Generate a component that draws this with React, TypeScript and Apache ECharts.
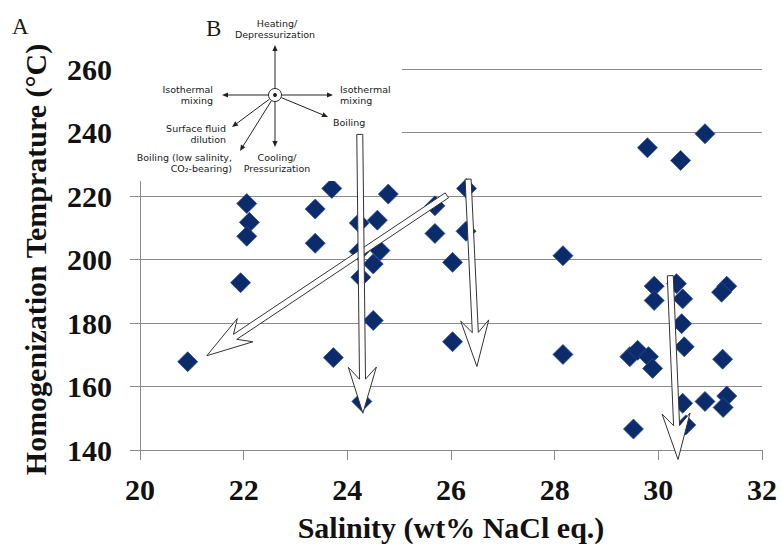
import React, { useEffect, useRef } from "react";
import * as echarts from "echarts";

const salinity = [
  20.92, 22.06, 22.11, 22.06, 21.94, 23.38, 23.38, 23.7, 23.73, 24.23, 24.23, 24.26,
  24.28, 24.58, 24.63, 24.5, 24.5, 24.79, 25.69, 25.69, 26.3, 26.29, 26.03, 26.03,
  28.16, 28.16, 29.79, 30.43, 30.9, 29.92, 29.92, 30.35, 30.47, 30.45, 30.5, 31.32,
  31.22, 31.24, 29.45, 29.6, 29.81, 29.89, 29.52, 30.47, 30.53, 30.9, 31.32, 31.25,
];
const temperature = [
  167.8, 217.6, 211.7, 207.3, 192.7, 215.9, 205.1, 222.4, 169.1, 211.5, 202.5, 194.4,
  155.3, 212.4, 202.8, 198.6, 180.8, 220.6, 216.9, 208.2, 222.4, 208.9, 199.1, 174.1,
  201.2, 170.1, 235.2, 231.2, 239.6, 191.6, 187.1, 192.4, 187.6, 179.8, 172.5, 191.6,
  189.7, 168.6, 169.4, 171.4, 169.4, 165.7, 146.6, 154.7, 147.9, 155.3, 157.0, 153.4,
];

// Trend arrows (data coordinates): tail -> tip
const arrowTails = [
  [25.92, 220.2],
  [24.24, 239.4],
  [26.33, 225.3],
  [30.23, 194.9],
];
const arrowTips = [
  [21.29, 169.7],
  [24.3, 151.6],
  [26.5, 166.3],
  [30.38, 137.0],
];

const xMin = 20, xMax = 32, xStep = 2;
const yMin = 140, yMax = 260, yStep = 20;

const SERIF = "'Liberation Serif', 'Times New Roman', serif";
const SANS = "'DejaVu Sans', Verdana, sans-serif";

function bigArrow(t: number[], h: number[]) {
  const headLen = 46, halfW = 14, notch = 12, s = 3;
  const dx = h[0] - t[0], dy = h[1] - t[1];
  const L = Math.hypot(dx, dy);
  const ux = dx / L, uy = dy / L;
  const px = -uy, py = ux;
  const bx = h[0] - ux * headLen, by = h[1] - uy * headLen;
  const jx = h[0] - ux * (headLen - notch), jy = h[1] - uy * (headLen - notch);
  return [
    [t[0] + px * s, t[1] + py * s],
    [jx + px * s, jy + py * s],
    [bx + px * halfW, by + py * halfW],
    [h[0], h[1]],
    [bx - px * halfW, by - py * halfW],
    [jx - px * s, jy - py * s],
    [t[0] - px * s, t[1] - py * s],
  ];
}

function smallArrow(cx: number, cy: number, ex: number, ey: number, r: number) {
  const dx = ex - cx, dy = ey - cy;
  const L = Math.hypot(dx, dy);
  const ux = dx / L, uy = dy / L;
  const px = -uy, py = ux;
  const hl = 6, hw = 2.6;
  const sx = cx + ux * r, sy = cy + uy * r;
  const bx = ex - ux * hl, by = ey - uy * hl;
  return [
    {
      type: "line",
      z: 101,
      shape: { x1: sx, y1: sy, x2: bx, y2: by },
      style: { stroke: "#222", lineWidth: 1 },
    },
    {
      type: "polygon",
      z: 101,
      shape: { points: [[ex, ey], [bx + px * hw, by + py * hw], [bx - px * hw, by - py * hw]] },
      style: { fill: "#222" },
    },
  ];
}

function txt(x: number, y: number, text: string, align: string, size = 9.5, font = SANS, weight = "normal") {
  return {
    type: "text",
    z: 102,
    x,
    y,
    style: {
      text,
      fill: "#1a1a1a",
      font: `${weight} ${size}px ${font}`,
      align,
      verticalAlign: "middle",
    },
  };
}

export default function App() {
  const ref = useRef<HTMLDivElement>(null);
  useEffect(() => {
    document.body.style.margin = "0";
    if (!ref.current) return;
    const chart = echarts.init(ref.current, undefined, { renderer: "svg" });
    const axisColor = "#8a8a8a";
    chart.setOption({
      animation: false,
      backgroundColor: "#fff",
      grid: { left: 140, right: 19, top: 69, bottom: 95 },
      xAxis: {
        type: "value",
        min: xMin,
        max: xMax,
        interval: xStep,
        axisLine: { show: true, lineStyle: { color: axisColor, width: 1 } },
        axisTick: { show: true, length: 10, lineStyle: { color: axisColor } },
        splitLine: { show: false },
        axisLabel: { fontFamily: SERIF, fontWeight: "bold", fontSize: 30, color: "#111", margin: 24 },
        name: "Salinity (wt% NaCl eq.)",
        nameLocation: "middle",
        nameGap: 62,
        nameTextStyle: { fontFamily: SERIF, fontWeight: "bold", fontSize: 30, color: "#111" },
      },
      yAxis: {
        type: "value",
        min: yMin,
        max: yMax,
        interval: yStep,
        axisLine: { show: true, lineStyle: { color: axisColor, width: 1 } },
        axisTick: { show: true, length: 10, lineStyle: { color: axisColor } },
        splitLine: { show: true, lineStyle: { color: axisColor, width: 1 } },
        axisLabel: { fontFamily: SERIF, fontWeight: "bold", fontSize: 30, color: "#111", margin: 28 },
        name: "Homogenization Temprature (°C)",
        nameLocation: "middle",
        nameGap: 90,
        nameTextStyle: { fontFamily: SERIF, fontWeight: "bold", fontSize: 30, color: "#111" },
      },
      series: [
        {
          type: "scatter",
          symbol: "diamond",
          symbolSize: 20,
          itemStyle: { color: "#0b2b6b", opacity: 1, borderColor: "#2a4e96", borderWidth: 0.8 },
          data: salinity.map((x, i) => [x, temperature[i]]),
          z: 3,
        },
      ],
    });

    const cx = 275, cy = 95;
    const graphics: any[] = [
      { type: "rect", z: 100, shape: { x: 115, y: 0, width: 287, height: 181 }, style: { fill: "#fff" } },
      txt(12, 26, "A", "left", 23, SERIF),
      txt(206, 28, "B", "left", 23, SERIF),
      { type: "circle", z: 101, shape: { cx, cy, r: 6.5 }, style: { fill: "#fff", stroke: "#222", lineWidth: 1 } },
      { type: "circle", z: 101, shape: { cx, cy, r: 2 }, style: { fill: "#222" } },
      ...smallArrow(cx, cy, 275, 45, 7),
      ...smallArrow(cx, cy, 275, 147, 7),
      ...smallArrow(cx, cy, 222, 95, 7),
      ...smallArrow(cx, cy, 333, 95, 7),
      ...smallArrow(cx, cy, 328, 117, 7),
      ...smallArrow(cx, cy, 232, 127, 7),
      ...smallArrow(cx, cy, 240, 151, 7),
      txt(277, 23, "Heating/", "center"),
      txt(275, 34, "Depressurization", "center"),
      txt(213, 89, "Isothermal", "right"),
      txt(213, 100, "mixing", "right"),
      txt(340, 89, "Isothermal", "left"),
      txt(340, 100, "mixing", "left"),
      txt(333, 122, "Boiling", "left"),
      txt(226, 128, "Surface fluid", "right"),
      txt(226, 139, "dilution", "right"),
      txt(232, 157, "Boiling (low salinity,", "right"),
      txt(232, 168, "CO₂-bearing)", "right"),
      txt(277, 157, "Cooling/", "center"),
      txt(277, 168, "Pressurization", "center"),
    ];
    arrowTails.forEach((t, i) => {
      const pt = chart.convertToPixel({ xAxisIndex: 0, yAxisIndex: 0 }, t) as number[];
      const ph = chart.convertToPixel({ xAxisIndex: 0, yAxisIndex: 0 }, arrowTips[i]) as number[];
      graphics.push({
        type: "polygon",
        z: 103,
        shape: { points: bigArrow(pt, ph) },
        style: { fill: "#fff", stroke: "#333", lineWidth: 1 },
      });
    });
    chart.setOption({ graphic: graphics });
    return () => chart.dispose();
  }, []);
  return <div ref={ref} style={{ width: 781, height: 547 }} />;
}
